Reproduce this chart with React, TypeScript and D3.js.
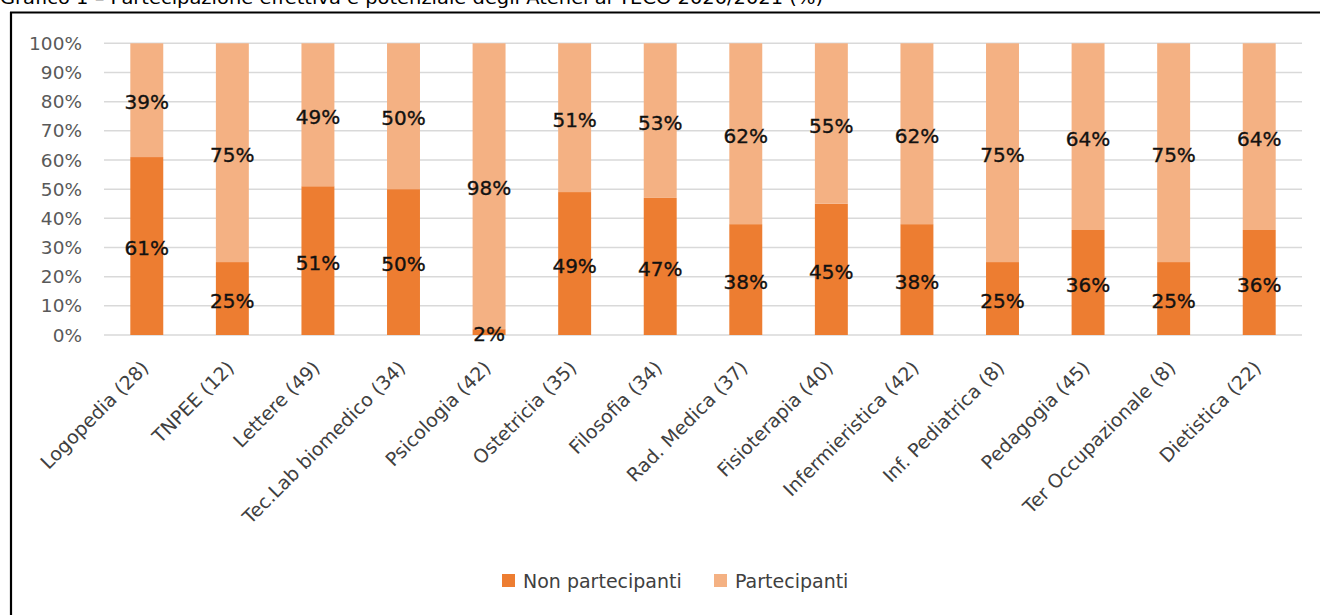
import React from "react";
import * as d3 from "d3";

const categories = [
  "Logopedia (28)",
  "TNPEE (12)",
  "Lettere (49)",
  "Tec.Lab biomedico (34)",
  "Psicologia (42)",
  "Ostetricia (35)",
  "Filosofia (34)",
  "Rad. Medica (37)",
  "Fisioterapia (40)",
  "Infermieristica (42)",
  "Inf. Pediatrica (8)",
  "Pedagogia (45)",
  "Ter Occupazionale (8)",
  "Dietistica (22)",
];
const nonPartecipanti = [61, 25, 51, 50, 2, 49, 47, 38, 45, 38, 25, 36, 25, 36];
const partecipanti = [39, 75, 49, 50, 98, 51, 53, 62, 55, 62, 75, 64, 75, 64];
const yTicks = [0, 10, 20, 30, 40, 50, 60, 70, 80, 90, 100];
const seriesNames = ["Non partecipanti", "Partecipanti"];
const colors = ["#ED7D31", "#F4B183"];
const title = "Grafico 1 – Partecipazione effettiva e potenziale degli Atenei al TECO 2020/2021 (%)";

const W = 1320;
const H = 615;
const FONT = "'DejaVu Sans', sans-serif";

export default function App() {
  const x = d3.scaleBand<string>().domain(categories).range([104, 1302]).paddingInner(0.615).paddingOuter(0.3075);
  const y = d3.scaleLinear().domain([0, 100]).range([335, 43.3]);

  const rows = categories.map((c, i) => ({ cat: c, np: nonPartecipanti[i], p: partecipanti[i] }));
  const stack = d3.stack<any>().keys(["np", "p"])(rows);

  return (
    <svg width={W} height={H} style={{ position: "absolute", left: 0, top: 0, background: "#fff" }} fontFamily={FONT}>
      <rect x={0} y={0} width={W} height={H} fill="#fff" />
      {/* title (cut off at top, as in the source) */}
      <text x={0} y={4} fontSize={17} fill="#000" textLength={823} lengthAdjust="spacingAndGlyphs">
        {title}
      </text>
      {/* frame */}
      <line x1={10} x2={W + 5} y1={12.5} y2={12.5} stroke="#000" strokeWidth={2.2} />
      <line x1={11} x2={11} y1={12} y2={H + 5} stroke="#000" strokeWidth={2.2} />

      {/* gridlines */}
      {yTicks.map((t) => (
        <line key={t} x1={104} x2={1302} y1={y(t)} y2={y(t)} stroke="#D9D9D9" strokeWidth={1.5} />
      ))}
      {/* y tick labels */}
      {yTicks.map((t) => (
        <text key={"yl" + t} x={82} y={y(t)} dy="0.36em" textAnchor="end" fontSize={18.5} fill="#595959">
          {t}%
        </text>
      ))}

      {/* bars */}
      {stack.map((s, si) =>
        s.map((d, i) => (
          <rect
            key={si + "-" + i}
            x={x(categories[i])}
            width={x.bandwidth()}
            y={y(d[1])}
            height={y(d[0]) - y(d[1])}
            fill={colors[si]}
          />
        ))
      )}
      {/* data labels */}
      {stack.map((s, si) =>
        s.map((d, i) => (
          <text
            key={"dl" + si + "-" + i}
            x={(x(categories[i]) as number) + x.bandwidth() / 2}
            y={y((d[0] + d[1]) / 2) + 2}
            dy="0.36em"
            textAnchor="middle"
            fontSize={20}
            fill="#111"
            stroke="#111"
            strokeWidth={0.35}
          >
            {d[1] - d[0]}%
          </text>
        ))
      )}

      {/* x labels */}
      {categories.map((c) => {
        const cx = (x(c) as number) + x.bandwidth() / 2;
        return (
          <text
            key={"xl" + c}
            transform={`translate(${cx + 3},${369}) rotate(-45)`}
            textAnchor="end"
            fontSize={19}
            fill="#404040"
          >
            {c}
          </text>
        );
      })}

      {/* legend */}
      {seriesNames.map((n, i) => {
        const lx = i === 0 ? 502 : 714;
        return (
          <g key={n}>
            <rect x={lx} y={574} width={13} height={13} fill={colors[i]} />
            <text x={lx + 21} y={588} fontSize={19} fill="#404040">
              {n}
            </text>
          </g>
        );
      })}
    </svg>
  );
}
